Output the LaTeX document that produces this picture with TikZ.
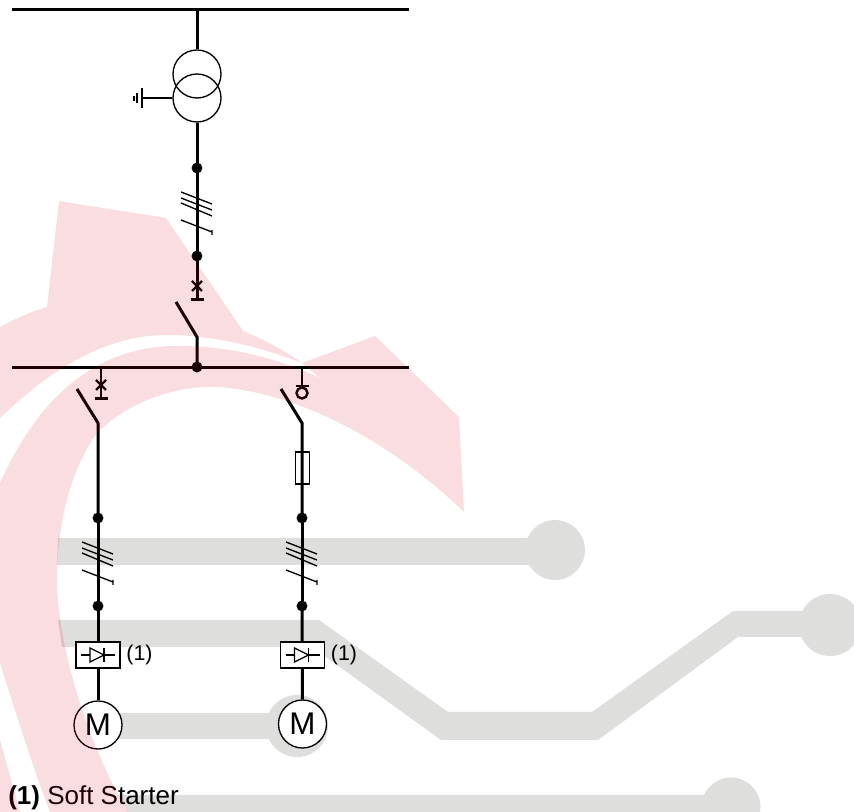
\documentclass[tikz,border=0pt]{standalone}
\usepackage{fontspec}
\setmainfont{Liberation Sans}
\definecolor{wmpink}{rgb}{0.82,0,0.08}
\definecolor{wmgray}{HTML}{DEDEDC}
\tikzset{
  heavy/.style={line width=2.25pt,black},
  medium/.style={line width=1.8pt,black},
  thin line/.style={line width=1pt,black},
  dotnode/.style={circle,fill=black,draw=none,inner sep=0pt,minimum size=8.2pt},
  motor/.style={circle,draw=black,line width=1pt,fill=white,inner sep=0pt,minimum size=36pt,font=\fontsize{23.5pt}{25pt}\selectfont},
  transformer/.style={circle,draw=black,line width=1pt,inner sep=0pt,minimum size=36pt},
  starter/.style={rectangle,draw=black,line width=1pt,fill=white,inner sep=0pt,minimum width=33pt,minimum height=19.5pt},
  fusebox/.style={rectangle,draw=black,line width=.8pt,inner sep=0pt,minimum width=11pt,minimum height=24pt},
  note/.style={font=\fontsize{16pt}{18pt}\selectfont,inner sep=0pt},
  legend/.style={font=\fontsize{19.5pt}{22pt}\selectfont,inner sep=0pt,anchor=base west},
  trace/.style={fill=wmgray,draw=none},
  cables/.pic={
    \draw[thin line] (-16,24) -- (15,36) (-16,30) -- (15,42) (-16,35) -- (15,48);
    \draw[thin line] (-16,52) -- (15,64) (15,62) -- (15,67);
  },
  breaker/.pic={
    \draw[medium] (-5,-5) -- (5,5) (-5,5) -- (5,-5);
    \draw[medium] (-6.5,13.5) -- (6.5,13.5);
  },
  diode/.pic={
    \draw[thin line] (-17,0) -- (-8,0) (6,0) -- (17,0);
    \draw[thin line] (-8,-7) -- (-8,7) -- (6,0) -- cycle;
    \draw[thin line] (6,-7) -- (6,7);
  },
}
\begin{document}
\begin{tikzpicture}[x=.75pt,y=-.75pt]
\useasboundingbox (0,0) rectangle (854,812);
% grey traces
\begin{scope}
\clip (0,0) rectangle (854,812);
\fill[trace] (58,538) -- (530,538) -- (530,565) -- (57,565) -- cycle;
\fill[trace] (555,550) circle (30);
\fill[trace] (58,620) -- (319,620) -- (448,712) -- (592,712) -- (733,611) -- (810,611) -- (810,637) -- (738,637) -- (598,740) -- (441,740) -- (312,647) -- (62,647) -- cycle;
\fill[trace] (830,625) circle (31);
\fill[trace] (100,713) -- (290,713) -- (290,739) -- (100,739) -- cycle;
\fill[trace] (297,726) circle (31);
\fill[trace] (118,795) -- (710,795) -- (710,812) -- (128,812) -- cycle;
\fill[trace] (731,807) circle (29.5);
\end{scope}
% coordinates
\coordinate (busAL) at (12,10);
\coordinate (busAR) at (409,10);
\coordinate (busAT) at (197,10);
\coordinate (busBL) at (12,367.5);
\coordinate (busBR) at (409,367.5);
\coordinate (mainBar) at (197,299.5);
\coordinate (mainHinge) at (197,337);
\coordinate (mainBlade) at (176,302);
\coordinate (leftTop) at (101,367);
\coordinate (leftBar) at (101,398);
\coordinate (leftHinge) at (98,423);
\coordinate (leftBlade) at (77,389);
\coordinate (rightTop) at (302,367);
\coordinate (rightBar) at (302,386);
\coordinate (rightHinge) at (302,423);
\coordinate (rightBlade) at (281,389);
\coordinate (earthA) at (142,98);
% buses
\draw[heavy] (busAL) -- (busAR);
\draw[heavy] (busBL) -- (busBR);
% transformer
\node[transformer] (T1) at (197,74) {};
\node[transformer] (T2) at (197,98) {};
\draw[heavy] (busAT) -- (T1.north);
\draw[thin line] (T2.west) -- (earthA);
\draw[thin line] (142,88) -- (142,108) (137,93) -- (137,103) (134,96) -- (134,101);
% incomer
\node[dotnode] (D1) at (197,168) {};
\node[dotnode] (D2) at (197,256) {};
\node[dotnode] (D3) at (197,367) {};
\draw[heavy] (T2.south) -- (D1.center);
\draw[heavy] (D1.center) -- (D2.center);
\draw[heavy] (D2.center) -- (mainBar);
\pic at (D1) {cables};
\pic at (197,286) {breaker};
\draw[heavy] (mainBlade) -- (mainHinge) -- (D3.center);
% left feeder
\draw[medium] (leftTop) -- (leftBar);
\pic at (101,385) {breaker};
\node[dotnode] (L1) at (98,518) {};
\node[dotnode] (L2) at (98,606) {};
\node[motor] (ML) at (98,725) {M};
\draw[heavy] (leftBlade) -- (leftHinge) -- (L1.center);
\draw[heavy] (L1.center) -- (L2.center);
\draw[heavy] (L2.center) -- (ML.north);
\pic at (L1) {cables};
\node[starter] (SL) at (98,655) {};
\pic at (SL) {diode};
\node[note] (NL) at (139.5,655) {(1)};
% right feeder
\draw[medium] (rightTop) -- (rightBar);
\draw[medium] (295.5,386) -- (308.5,386);
\draw[medium] (302,393) circle (5.5);
\node[dotnode] (R1) at (302,518) {};
\node[dotnode] (R2) at (302,606) {};
\node[motor] (MR) at (302.5,724) {M};
\node[fusebox] (F) at (302.5,468) {};
\draw[heavy] (rightBlade) -- (rightHinge) -- (R1.center);
\draw[heavy] (R1.center) -- (R2.center);
\draw[heavy] (R2.center) -- (MR.north);
\pic at (R1) {cables};
\node[starter] (SR) at (302.5,655) {};
\pic at (SR) {diode};
\node[note] (NR) at (344,655) {(1)};
% legend
\node[legend] (LG) at (8,805) {\textbf{(1)} Soft Starter};
% red watermark over everything
\begin{scope}
\clip (0,0) rectangle (854,812);
\fill[wmpink,fill opacity=.133]
  (59,201) -- (166,218) -- (243,331)
  .. controls (265,340) and (285,351) .. (302,363)
  .. controls (255,345) and (210,335) .. (167,335)
  .. controls (100,335) and (45,375) .. (0,418)
  -- (0,327) .. controls (15,319) and (30,312) .. (47,307) -- cycle
  (320,378) .. controls (270,355) and (225,346) .. (177,346)
  .. controls (90,346) and (35,405) .. (0,483)
  -- (0,663) .. controls (15,710) and (32,765) .. (50,812)
  -- (128,812) .. controls (85,740) and (57,640) .. (57,580)
  .. controls (57,525) and (70,470) .. (97,433)
  .. controls (125,405) and (170,385) .. (220,387)
  .. controls (310,395) and (400,450) .. (464,512)
  -- (459,417) -- (375,336) -- (302,363) -- cycle
  (0,740) -- (20,812) -- (0,812) -- cycle;
\end{scope}
\end{tikzpicture}
\end{document}
